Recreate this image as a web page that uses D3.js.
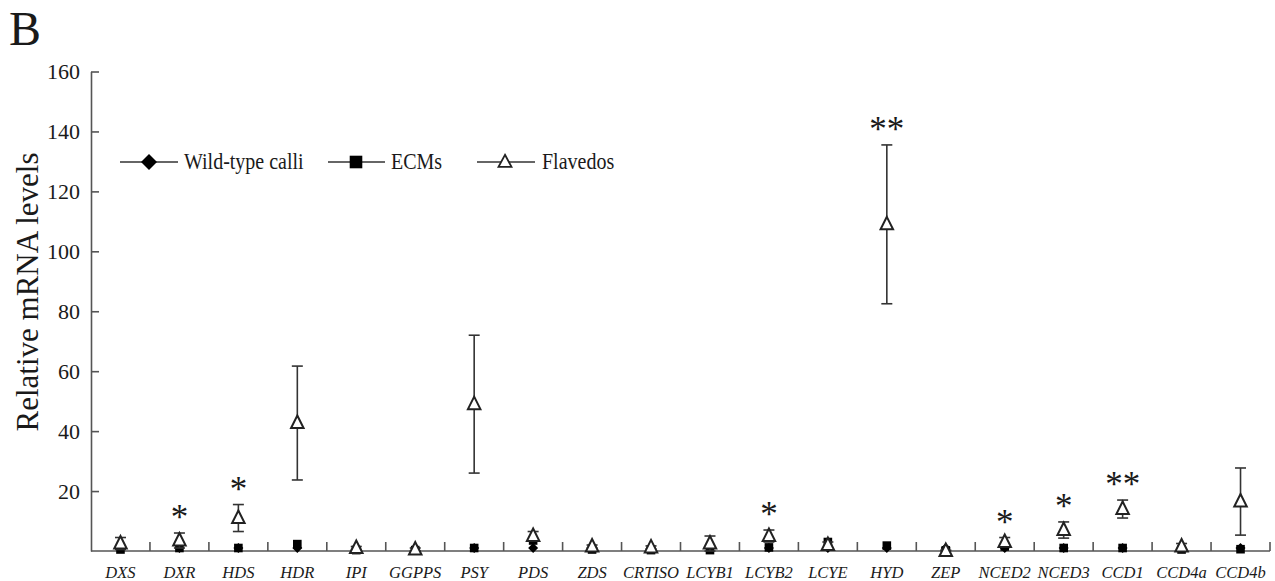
<!DOCTYPE html>
<html>
<head>
<meta charset="utf-8">
<script src="https://cdn.jsdelivr.net/npm/d3@7"></script>
<style>
  html, body { margin: 0; padding: 0; background: #fff; }
  svg { display: block; }
  text { font-family: "Liberation Serif", "Times New Roman", serif; fill: #1a1a1a; }
</style>
</head>
<body>
<svg id="chart" width="1275" height="581"></svg>
<script>
// ---------- data ----------
const genes = ["DXS","DXR","HDS","HDR","IPI","GGPPS","PSY","PDS","ZDS","CRTISO",
               "LCYB1","LCYB2","LCYE","HYD","ZEP","NCED2","NCED3","CCD1","CCD4a","CCD4b"];
const wildType   = [1,1,1,1,1,1,1,1,1,1,1,1,1,1,1,1,1,1,1,1];
const ecms       = [0.5,1,1,2.3,0.3,0.3,1,3.5,0.5,0.3,0.3,1.2,3,1.8,0.2,1.5,1,1,0.5,0.6];
const flavedos   = [2.5,3.5,11,42.7,1,0.5,49,5,1.5,1.2,2.5,5,2,109,0,3,7,14,1.5,16.5];
const flavedosErr= [2,2.5,4.5,19,0.5,0.5,23,1.5,0.5,0.5,2.5,2,1,26.5,0.3,1.5,2.7,3,1,11.2];
const sigGenes   = ["DXR","HDS","LCYB2","HYD","NCED2","NCED3","CCD1"];
const sigMarks   = ["*","*","*","**","*","*","**"];
const yTicks     = [20,40,60,80,100,120,140,160];
const seriesNames= ["Wild-type calli","ECMs","Flavedos"];

// ---------- layout ----------
const svg = d3.select("#chart");
const X0 = 91, X1 = 1270, Y0 = 551, Y1 = 71.5;
const axisColor = "#555";

const x = d3.scaleBand().domain(genes).range([X0, X1]).padding(0);
const y = d3.scaleLinear().domain([0, 160]).range([Y0, Y1]);
const cx = g => x(g) + x.bandwidth() / 2;

// panel label
svg.append("text").attr("x", 9).attr("y", 45)
  .style("font-size", "48px").text("B");

// y axis
const yAxis = d3.axisLeft(y).tickValues(yTicks).tickSizeInner(-8).tickSizeOuter(0).tickPadding(11);
const gy = svg.append("g").attr("transform", `translate(${X0},0)`).call(yAxis);
gy.select(".domain").attr("stroke", axisColor).attr("stroke-width", 1.6);
gy.selectAll(".tick line").attr("stroke", axisColor).attr("stroke-width", 1.6);
gy.selectAll(".tick text").style("font-size", "22px")
  .style("font-family", '"Liberation Serif", serif').attr("fill", "#1a1a1a");

// y label
svg.append("text")
  .attr("transform", `translate(38,292) rotate(-90)`)
  .attr("text-anchor", "middle")
  .style("font-size", "31px")
  .text("Relative mRNA levels");

// x axis
svg.append("line").attr("x1", X0).attr("x2", X1).attr("y1", Y0).attr("y2", Y0)
  .attr("stroke", axisColor).attr("stroke-width", 1.6);
svg.append("g").selectAll("line").data(genes).join("line")
  .attr("x1", g => x(g) + x.bandwidth()).attr("x2", g => x(g) + x.bandwidth())
  .attr("y1", Y0).attr("y2", Y0 - 9)
  .attr("stroke", axisColor).attr("stroke-width", 1.6);
svg.append("g").selectAll("text").data(genes).join("text")
  .attr("x", g => cx(g)).attr("y", 578)
  .attr("text-anchor", "middle")
  .style("font-size", "16.5px").style("font-style", "italic")
  .text(g => g);

// markers
const diamond = (s) => `M0,${-s}L${s},0L0,${s}L${-s},0Z`;
const square  = (s) => `M${-s},${-s}H${s}V${s}H${-s}Z`;
const tri     = (w, h) => `M0,${-h*0.6}L${w/2},${h*0.4}L${-w/2},${h*0.4}Z`;

const markStroke = "#222";

// wild type diamonds
svg.append("g").selectAll("path").data(genes).join("path")
  .attr("transform", (g, i) => `translate(${cx(g)},${y(wildType[i])})`)
  .attr("d", diamond(5)).attr("fill", "#000");

// ECM squares
svg.append("g").selectAll("path").data(genes).join("path")
  .attr("transform", (g, i) => `translate(${cx(g)},${y(ecms[i])})`)
  .attr("d", square(4.3)).attr("fill", "#000");

// Flavedos error bars
const eb = svg.append("g").attr("stroke", "#333").attr("stroke-width", 1.6);
genes.forEach((g, i) => {
  const hi = y(flavedos[i] + flavedosErr[i]);
  const lo = y(Math.max(0, flavedos[i] - flavedosErr[i]));
  eb.append("line").attr("x1", cx(g)).attr("x2", cx(g)).attr("y1", hi).attr("y2", lo);
  eb.append("line").attr("x1", cx(g) - 5.5).attr("x2", cx(g) + 5.5).attr("y1", hi).attr("y2", hi);
  eb.append("line").attr("x1", cx(g) - 5.5).attr("x2", cx(g) + 5.5).attr("y1", lo).attr("y2", lo);
});

// Flavedos triangles
svg.append("g").selectAll("path").data(genes).join("path")
  .attr("transform", (g, i) => `translate(${cx(g)},${y(flavedos[i])})`)
  .attr("d", tri(12.5, 12.5)).attr("fill", "#fff").attr("stroke", markStroke).attr("stroke-width", 2);

// significance stars
svg.append("g").selectAll("text").data(sigGenes).join("text")
  .attr("x", g => cx(g))
  .attr("y", (g, k) => { const i = genes.indexOf(g); return y(flavedos[i] + flavedosErr[i]) - 4; })
  .attr("text-anchor", "middle")
  .style("font-size", "35px")
  .text((g, k) => sigMarks[k]);

// legend
const legY = 162;
const legend = [
  {x1: 120, x2: 178, m: 149, tx: 184, shape: "diamond"},
  {x1: 328, x2: 385, m: 356, tx: 391, shape: "square"},
  {x1: 477, x2: 535, m: 505, tx: 542, shape: "triangle"}
];
const lg = svg.append("g");
legend.forEach((d, i) => {
  lg.append("line").attr("x1", d.x1).attr("x2", d.x2).attr("y1", legY).attr("y2", legY)
    .attr("stroke", "#333").attr("stroke-width", 1.6);
  const p = lg.append("path").attr("transform", `translate(${d.m},${legY})`);
  if (d.shape === "diamond") p.attr("d", diamond(8)).attr("fill", "#000");
  else if (d.shape === "square") p.attr("d", square(6.3)).attr("fill", "#000");
  else p.attr("d", tri(13, 12)).attr("fill", "#fff").attr("stroke", markStroke).attr("stroke-width", 1.8);
  lg.append("text").attr("transform", `translate(${d.tx},${legY + 7}) scale(1,1.12)`)
    .style("font-size", "20px").text(seriesNames[i]);
});
</script>
</body>
</html>
